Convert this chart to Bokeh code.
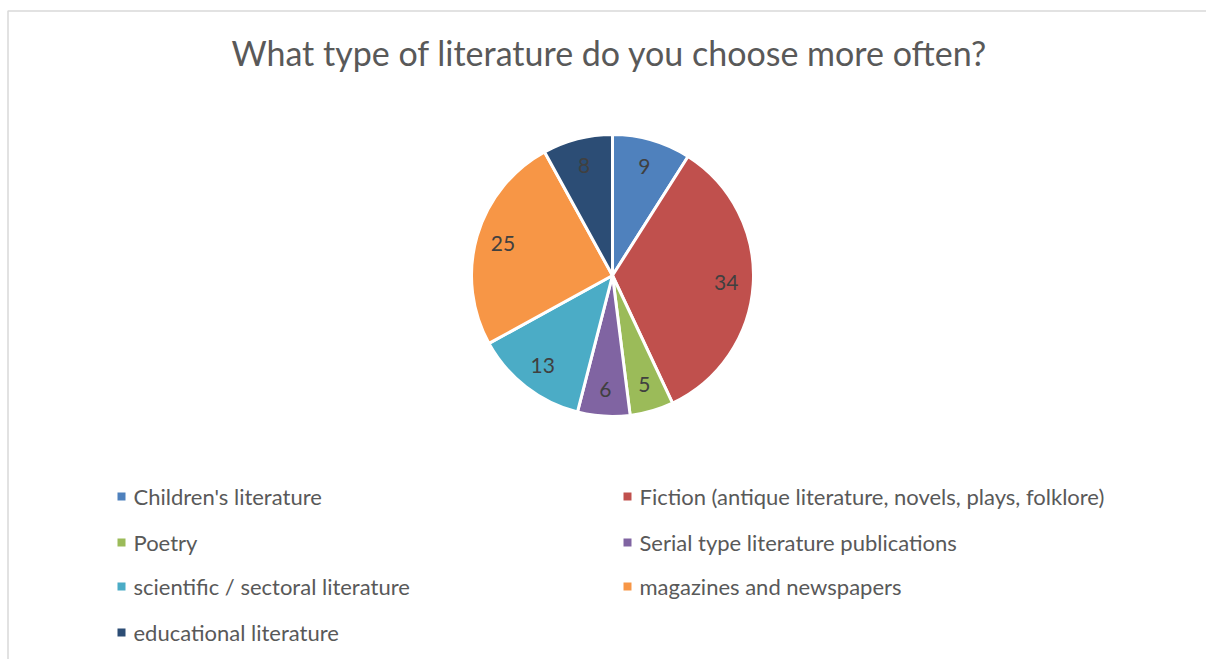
import math
from bokeh.plotting import figure
from bokeh.models import Range1d, ColumnDataSource
from bokeh.core.properties import value
from bokeh.embed import file_html
from bokeh.resources import INLINE

# ---- data ----
categories = [
    "Children's literature",
    "Fiction (antique literature, novels, plays, folklore)",
    "Poetry",
    "Serial type literature publications",
    "scientific / sectoral literature",
    "magazines and newspapers",
    "educational literature",
]
counts = [9, 34, 5, 6, 13, 25, 8]
colors = ["#4F81BD", "#C0504D", "#9BBB59", "#8064A2", "#4BACC6", "#F79646", "#2C4D75"]
title_text = "What type of literature do you choose more often?"

FONT = "Lato"
W, H = 1206, 659
p = figure(width=W, height=H, output_backend="svg", toolbar_location=None,
           x_range=Range1d(0, W), y_range=Range1d(0, H), min_border=0)
p.axis.visible = False
p.grid.visible = False
p.outline_line_color = None
p.background_fill_color = "white"
p.border_fill_color = "white"

# chart area border (light gray)
p.line(x=[7.5, 7.5, W + 5], y=[-5, H - 10.5, H - 10.5], line_color="#D9D9D9", line_width=1.5)

# ---- pie ----
cx, cy, r = 612, H - 275, 141
total = sum(counts)
starts, ends, mids = [], [], []
cum = 0
for v in counts:
    a0 = math.pi / 2 - 2 * math.pi * cum / total
    cum += v
    a1 = math.pi / 2 - 2 * math.pi * cum / total
    starts.append(a0)
    ends.append(a1)
    mids.append((a0 + a1) / 2)

src = ColumnDataSource(dict(start=starts, end=ends, color=colors,
                            cat=categories, val=counts))
p.wedge(x=cx, y=cy, radius=r, start_angle="start", end_angle="end",
        direction="clock", fill_color="color", line_color="white",
        line_width=3, source=src)

lr = 114
lab = ColumnDataSource(dict(
    x=[cx + lr * math.cos(m) for m in mids],
    y=[cy + lr * math.sin(m) for m in mids],
    t=[str(v) for v in counts]))
p.text(x="x", y="y", text="t", source=lab, text_align="center",
       text_baseline="middle", text_font=value(FONT),
       text_font_size="21px", text_color="#404040")

# ---- title ----
p.text(x=[W / 2 + 6], y=[H - 52], text=[title_text], text_align="center",
       text_baseline="middle", text_font=value(FONT),
       text_font_size="34px", text_color="#595959")

# ---- legend ----
col_x = [121, 627]
row_y = [496, 542, 586, 632]
lx, ly, tx = [], [], []
for i, c in enumerate(categories):
    col = i % 2
    row = i // 2
    lx.append(col_x[col])
    ly.append(H - row_y[row])
    tx.append(col_x[col] + 12)
leg = ColumnDataSource(dict(x=lx, y=ly, tx=tx, t=categories, color=colors))
p.scatter(x="x", y="y", marker="square", size=8, fill_color="color",
          line_color=None, source=leg)
p.text(x="tx", y="y", text="t", source=leg, text_align="left",
       text_baseline="middle", text_font=value(FONT),
       text_font_size="22px", text_color="#595959")

open("out.html", "w").write(file_html(p, INLINE))
